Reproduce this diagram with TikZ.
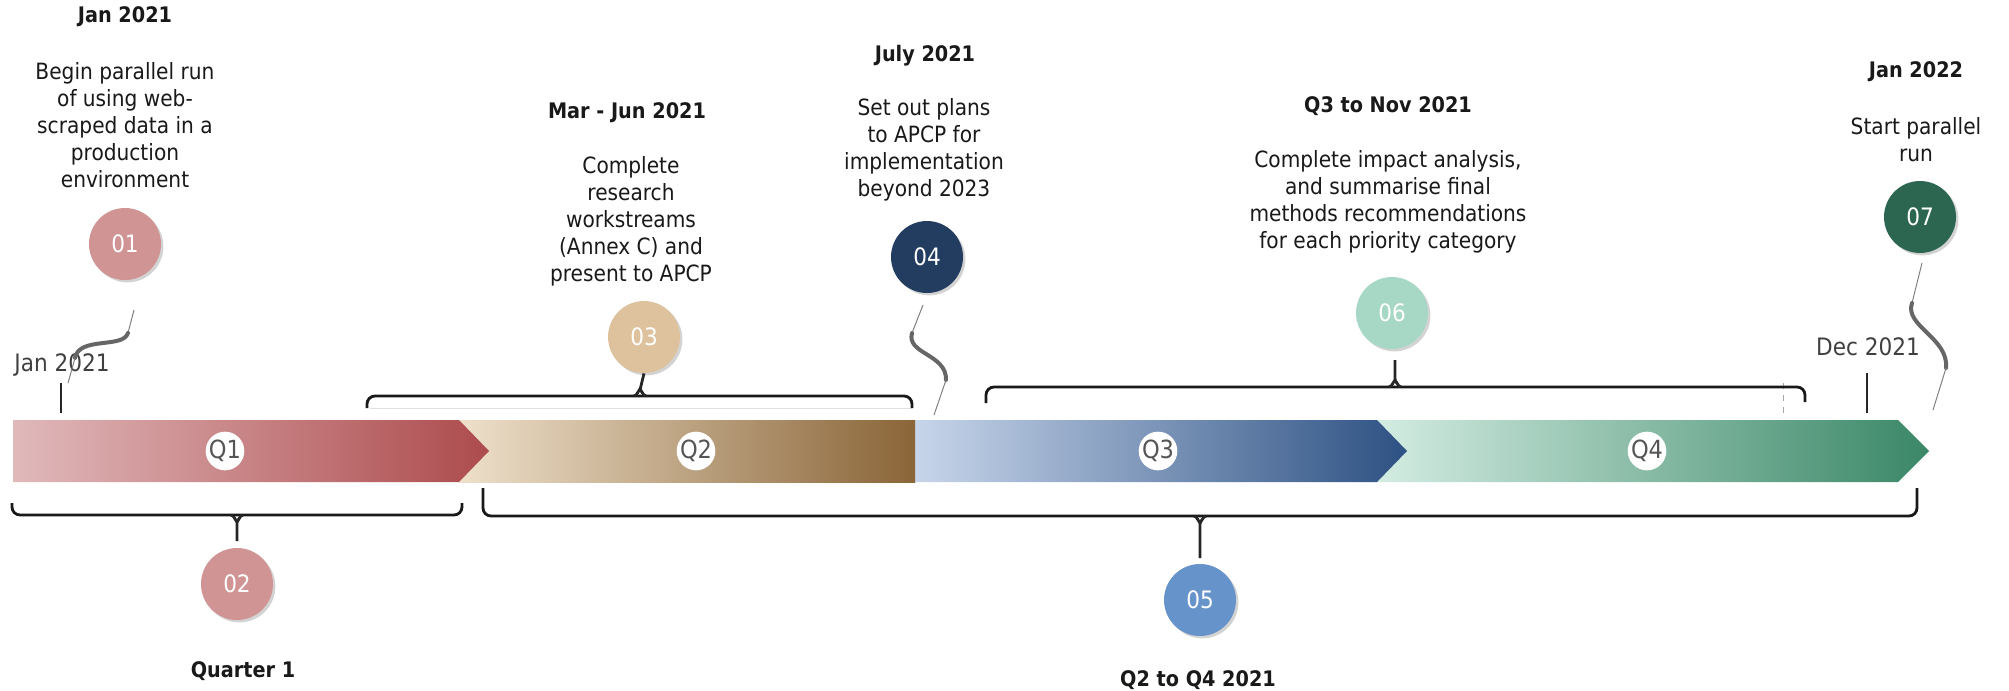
\documentclass[tikz,border=0pt]{standalone}
\usepackage{fontspec}
\setmainfont{DejaVu Sans Condensed}
\usetikzlibrary{shadows}
\definecolor{qal}{HTML}{E0B9BB}\definecolor{qam}{HTML}{D2A0A2}\definecolor{qar}{HTML}{AD4B4D}
\definecolor{qbl}{HTML}{EEE0CB}\definecolor{qbm}{HTML}{D3C0A6}\definecolor{qbr}{HTML}{8A6538}
\definecolor{qcl}{HTML}{C7D5EA}\definecolor{qcm}{HTML}{9CAECB}\definecolor{qcr}{HTML}{2D5183}
\definecolor{qdl}{HTML}{D3ECE2}\definecolor{qdm}{HTML}{A6CBBB}\definecolor{qdr}{HTML}{3A8767}
\definecolor{cA}{HTML}{D09494}\definecolor{cC}{HTML}{DEC29E}\definecolor{cD}{HTML}{223D60}
\definecolor{cE}{HTML}{6793CB}\definecolor{cF}{HTML}{A7D8C5}\definecolor{cG}{HTML}{2C6651}
\definecolor{txtgray}{HTML}{404040}\definecolor{qgray}{HTML}{555555}
\tikzset{
  milestone/.style={circle, minimum size=36pt, inner sep=0pt, fill=#1, text=white,
    font=\fontsize{12}{13}\selectfont,
    drop shadow={opacity=0.35, shadow xshift=1.2pt, shadow yshift=-1.2pt}},
  qlabel/.style={circle, minimum size=19pt, inner sep=0pt, fill=white, text=qgray,
    font=\fontsize{12.5}{13}\selectfont},
  caption/.style={align=center, inner sep=0pt, text=black!90, font=\fontsize{11.2}{13.5}\selectfont},
  heading/.style={align=center, inner sep=0pt, text=black!90, font=\fontsize{10.7}{13.5}\selectfont\bfseries},
  datelabel/.style={inner sep=0pt, text=txtgray, font=\fontsize{12}{13}\selectfont},
  bracketline/.style={line width=1.4pt, black!90, rounded corners=4pt},
  tickline/.style={line width=1.4pt, black!85},
  thinwave/.style={line width=0.5pt, gray},
  thickwave/.style={line width=2pt, black!60, line cap=round},
}
\begin{document}
\begin{tikzpicture}[x=0.5pt,y=-0.5pt]
\useasboundingbox (0,0) rectangle (2009,691);
% bar segments
\shade[left color=qdl, middle color=qdm, right color=qdr] (1377,420) -- (1898,420) -- (1929,451) -- (1898,482) -- (1377,482) -- cycle;
\shade[left color=qcl, middle color=qcm, right color=qcr] (915,420) -- (1377,420) -- (1407,451) -- (1377,482) -- (915,482) -- cycle;
\shade[left color=qbl, middle color=qbm, right color=qbr] (459,420) rectangle (915,482);
\shade[left color=qal, middle color=qam, right color=qar] (13,420) -- (459,420) -- (489,451) -- (459,482) -- (13,482) -- cycle;
% quarter labels
\node[qlabel] (q1) at (225,451) {Q1};
\node[qlabel] (q2) at (696,451) {Q2};
\node[qlabel] (q3) at (1158,451) {Q3};
\node[qlabel] (q4) at (1647,451) {Q4};

% milestone circles
\node[milestone=cA] (m1) at (125,244) {01};
\node[milestone=cA] (m2) at (237,584) {02};
\node[milestone=cC] (m3) at (644,337) {03};
\node[milestone=cD] (m4) at (927,257) {04};
\node[milestone=cE] (m5) at (1200,600) {05};
\node[milestone=cF] (m6) at (1392,313) {06};
\node[milestone=cG] (m7) at (1920,217) {07};

% headings
\node[heading] (h1) at (125,17) {Jan 2021};
\node[heading] (h3) at (627,113) {Mar - Jun 2021};
\node[heading] (h4) at (925,56) {July 2021};
\node[heading] (h6) at (1388,106) {Q3 to Nov 2021};
\node[heading] (h7) at (1916,72) {Jan 2022};
\node[heading] (h2) at (243,671) {Quarter 1};
\node[heading] (h5) at (1198,680) {Q2 to Q4 2021};

% captions
\node[caption] (c1) at (125,125) {Begin parallel run\\of using web-\\scraped data in a\\production\\environment};
\node[caption] (c3) at (631,221) {Complete\\research\\workstreams\\(Annex C) and\\present to APCP};
\node[caption] (c4) at (924,150) {Set out plans\\to APCP for\\implementation\\beyond 2023};
\node[caption] (c6) at (1388,202) {Complete impact analysis,\\and summarise final\\methods recommendations\\for each priority category};
\node[caption] (c7) at (1916,140) {Start parallel\\run};

% date labels and ticks
\node[datelabel] (jan) at (62,365) {Jan 2021};
\node[datelabel] (dec) at (1868,347) {Dec 2021};
\coordinate (janA) at (61,383); \coordinate (janB) at (61,413);
\draw[tickline] (janA) -- (janB);
\coordinate (decA) at (1867,373); \coordinate (decB) at (1867,413);
\draw[tickline] (decA) -- (decB);

% bracket A (03)
\draw[line width=0.5pt, black!12] (370,408) -- (912,408);
\draw[bracketline] (367,408) -- (367,396) -- (912,396) -- (912,408);
\draw[tickline] (634,396) to[out=0,in=90] (640,390) -- (m3.south);
\draw[tickline] (646,396) to[out=180,in=90] (640,390);
% bracket B (06)
\draw[dashed, line width=0.4pt, gray!70] (1783,383) -- (1783,413);
\draw[bracketline] (986,403) -- (986,387) -- (1805,387) -- (1805,402);
\draw[tickline] (1389,387) to[out=0,in=90] (1395,381) -- (1395,360);
\draw[tickline] (1401,387) to[out=180,in=90] (1395,381);
% bracket C (02)
\draw[bracketline] (12,503) -- (12,515) -- (462,515) -- (462,503);
\draw[tickline] (231,515) to[out=0,in=-90] (237,521) -- (237,541);
\draw[tickline] (243,515) to[out=180,in=-90] (237,521);
% bracket D (05)
\draw[bracketline] (483,488) -- (483,516) -- (1917,516) -- (1917,488);
\draw[tickline] (1194,516) to[out=0,in=-90] (1200,522) -- (1200,558);
\draw[tickline] (1206,516) to[out=180,in=-90] (1200,522);

% wavy connectors
\coordinate (w1a) at (134,310); \coordinate (w1b) at (128,333);
\coordinate (w1c) at (75,358);  \coordinate (w1d) at (68,383);
\draw[thinwave] (w1a) -- (w1b);
\draw[thickwave] (w1b) .. controls (123,349) and (79,336) .. (w1c);
\draw[thinwave] (w1c) -- (w1d);

\coordinate (w4a) at (923,305); \coordinate (w4b) at (912,333);
\coordinate (w4c) at (946,380); \coordinate (w4d) at (934,415);
\draw[thinwave] (w4a) -- (w4b);
\draw[thickwave] (w4b) .. controls (906,354) and (947,354) .. (w4c);
\draw[thinwave] (w4c) -- (w4d);

\coordinate (w7a) at (1922,263); \coordinate (w7b) at (1912,303);
\coordinate (w7c) at (1946,368); \coordinate (w7d) at (1933,410);
\draw[thinwave] (w7a) -- (w7b);
\draw[thickwave] (w7b) .. controls (1904,326) and (1949,338) .. (w7c);
\draw[thinwave] (w7c) -- (w7d);
\end{tikzpicture}
\end{document}
